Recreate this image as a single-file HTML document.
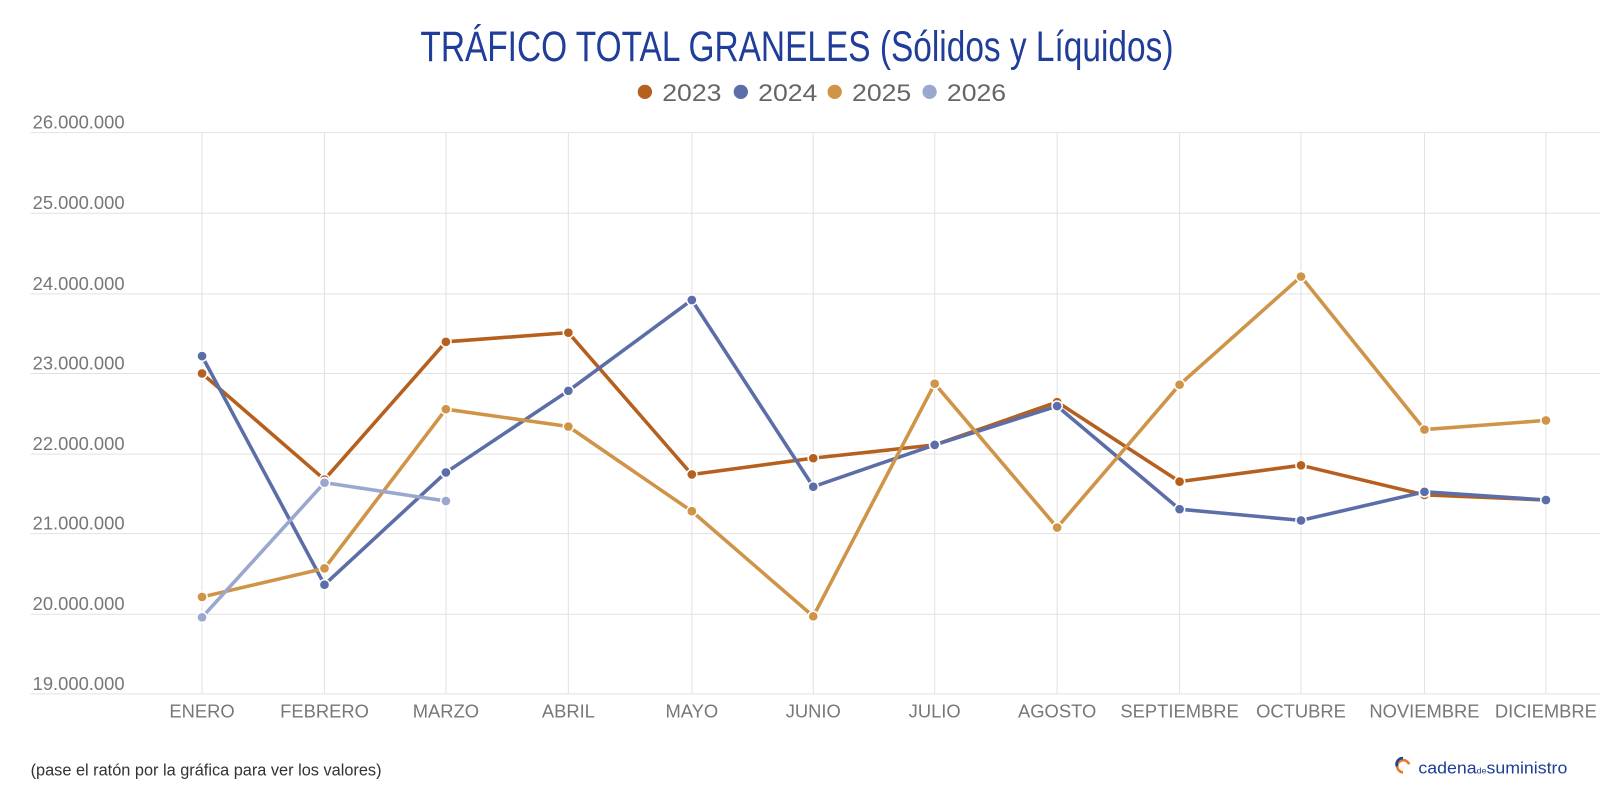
<!DOCTYPE html>
<html><head><meta charset="utf-8"><style>
html,body{margin:0;padding:0;background:#fff;}
svg{display:block;font-family:"Liberation Sans",sans-serif;}
</style></head><body>
<svg width="1600" height="800" viewBox="0 0 1600 800" xmlns="http://www.w3.org/2000/svg">
<rect width="1600" height="800" fill="#fff"/>
<g transform="scale(1.0204)">
<text x="412" y="60" font-family="'Liberation Sans Narrow','Liberation Sans',sans-serif" font-size="42" fill="#1f3d99" textLength="738" lengthAdjust="spacingAndGlyphs">TRÁFICO TOTAL GRANELES (Sólidos y Líquidos)</text>
<g font-size="24" fill="#666">
<circle cx="632" cy="90" r="7" fill="#b5601f"/><text x="649" y="99" textLength="58" lengthAdjust="spacingAndGlyphs">2023</text>
<circle cx="726" cy="90" r="7" fill="#5b6ea8"/><text x="743" y="99" textLength="58" lengthAdjust="spacingAndGlyphs">2024</text>
<circle cx="818" cy="90" r="7" fill="#cf9447"/><text x="835" y="99" textLength="58" lengthAdjust="spacingAndGlyphs">2025</text>
<circle cx="911" cy="90" r="7" fill="#9aa8d0"/><text x="928" y="99" textLength="58" lengthAdjust="spacingAndGlyphs">2026</text>
</g>
<g stroke="#e2e2e2" stroke-width="1">
<line x1="30" y1="130" x2="1568" y2="130"/><line x1="30" y1="209" x2="1568" y2="209"/>
<line x1="30" y1="288" x2="1568" y2="288"/><line x1="30" y1="366" x2="1568" y2="366"/>
<line x1="30" y1="445" x2="1568" y2="445"/><line x1="30" y1="523" x2="1568" y2="523"/>
<line x1="30" y1="602" x2="1568" y2="602"/><line x1="30" y1="680" x2="1568" y2="680"/>
<line x1="198" y1="130" x2="198" y2="680"/><line x1="318" y1="130" x2="318" y2="680"/>
<line x1="437" y1="130" x2="437" y2="680"/><line x1="557" y1="130" x2="557" y2="680"/>
<line x1="678" y1="130" x2="678" y2="680"/><line x1="797" y1="130" x2="797" y2="680"/>
<line x1="916" y1="130" x2="916" y2="680"/><line x1="1036" y1="130" x2="1036" y2="680"/>
<line x1="1156" y1="130" x2="1156" y2="680"/><line x1="1275" y1="130" x2="1275" y2="680"/>
<line x1="1396" y1="130" x2="1396" y2="680"/><line x1="1515" y1="130" x2="1515" y2="680"/>
</g>
<g font-size="18" fill="#777">
<text x="32" y="126">26.000.000</text><text x="32" y="205">25.000.000</text>
<text x="32" y="284">24.000.000</text><text x="32" y="362">23.000.000</text>
<text x="32" y="441">22.000.000</text><text x="32" y="519">21.000.000</text>
<text x="32" y="598">20.000.000</text><text x="32" y="676">19.000.000</text>
</g>
<g font-size="18" fill="#777" text-anchor="middle">
<text x="198" y="703">ENERO</text><text x="318" y="703">FEBRERO</text><text x="437" y="703">MARZO</text>
<text x="557" y="703">ABRIL</text><text x="678" y="703">MAYO</text><text x="797" y="703">JUNIO</text>
<text x="916" y="703">JULIO</text><text x="1036" y="703">AGOSTO</text><text x="1156" y="703">SEPTIEMBRE</text>
<text x="1275" y="703">OCTUBRE</text><text x="1396" y="703">NOVIEMBRE</text><text x="1515" y="703">DICIEMBRE</text>
</g>
<g fill="none" stroke-width="3.5" stroke-linejoin="round">
<polyline stroke="#b5601f" points="198,366 318,470 437,335 557,326 678,465 797,449 916,436 1036,394 1156,472 1275,456 1396,485 1515,490"/>
<polyline stroke="#5b6ea8" points="198,349 318,573 437,463 557,383 678,294 797,477 916,436 1036,398 1156,499 1275,510 1396,482 1515,490"/>
<polyline stroke="#cf9447" points="198,585 318,557 437,401 557,418 678,501 797,604 916,376 1036,517 1156,377 1275,271 1396,421 1515,412"/>
<polyline stroke="#9aa8d0" points="198,605 318,473 437,491"/>
</g>
<g stroke="#fff" stroke-width="1.5">
<g fill="#b5601f"><circle cx="198" cy="366" r="5"/><circle cx="318" cy="470" r="5"/><circle cx="437" cy="335" r="5"/><circle cx="557" cy="326" r="5"/><circle cx="678" cy="465" r="5"/><circle cx="797" cy="449" r="5"/><circle cx="916" cy="436" r="5"/><circle cx="1036" cy="394" r="5"/><circle cx="1156" cy="472" r="5"/><circle cx="1275" cy="456" r="5"/><circle cx="1396" cy="485" r="5"/><circle cx="1515" cy="490" r="5"/></g>
<g fill="#5b6ea8"><circle cx="198" cy="349" r="5"/><circle cx="318" cy="573" r="5"/><circle cx="437" cy="463" r="5"/><circle cx="557" cy="383" r="5"/><circle cx="678" cy="294" r="5"/><circle cx="797" cy="477" r="5"/><circle cx="916" cy="436" r="5"/><circle cx="1036" cy="398" r="5"/><circle cx="1156" cy="499" r="5"/><circle cx="1275" cy="510" r="5"/><circle cx="1396" cy="482" r="5"/><circle cx="1515" cy="490" r="5"/></g>
<g fill="#cf9447"><circle cx="198" cy="585" r="5"/><circle cx="318" cy="557" r="5"/><circle cx="437" cy="401" r="5"/><circle cx="557" cy="418" r="5"/><circle cx="678" cy="501" r="5"/><circle cx="797" cy="604" r="5"/><circle cx="916" cy="376" r="5"/><circle cx="1036" cy="517" r="5"/><circle cx="1156" cy="377" r="5"/><circle cx="1275" cy="271" r="5"/><circle cx="1396" cy="421" r="5"/><circle cx="1515" cy="412" r="5"/></g>
<g fill="#9aa8d0"><circle cx="198" cy="605" r="5"/><circle cx="318" cy="473" r="5"/><circle cx="437" cy="491" r="5"/></g>
</g>
<text x="30" y="760" font-size="16" fill="#333">(pase el ratón por la gráfica para ver los valores)</text>
<g>
<path d="M1381 749 A6 6 0 1 0 1375 757" fill="none" stroke="#e8792b" stroke-width="2.5"/>
<path d="M1369 751 A6 6 0 0 1 1375 743" fill="none" stroke="#1f3d99" stroke-width="2.5"/>
<text x="1390" y="758" font-size="16" fill="#1f3d99" textLength="146" lengthAdjust="spacingAndGlyphs">cadena<tspan font-size="8">de</tspan>suministro</text>
</g>
</g>
</svg>
</body></html>
